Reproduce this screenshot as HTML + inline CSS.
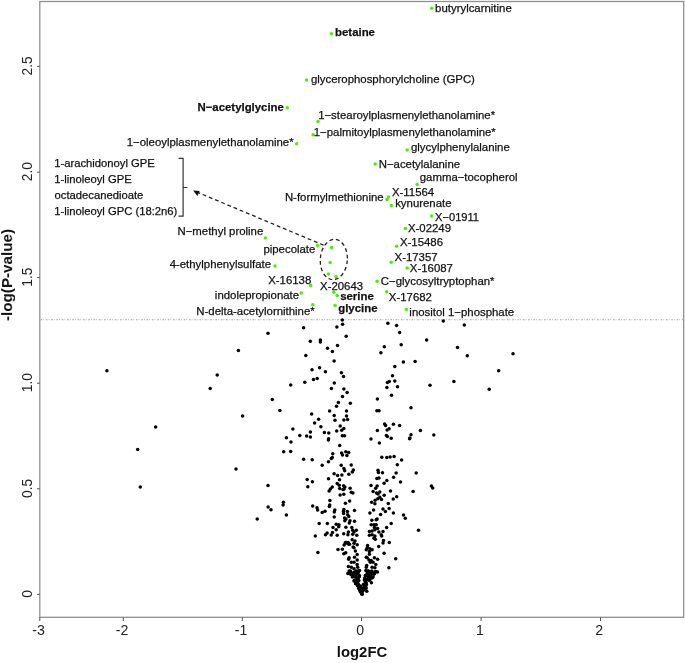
<!DOCTYPE html>
<html><head><meta charset="utf-8"><style>
html,body{margin:0;padding:0;background:#fff;width:685px;height:663px;overflow:hidden}
svg{display:block;font-family:"Liberation Sans",sans-serif}
</style></head><body>
<svg width="685" height="663" viewBox="0 0 685 663">
<rect width="685" height="663" fill="#fff"/>
<line x1="40.5" y1="319.8" x2="683" y2="319.8" stroke="#a2a2a2" stroke-width="1.1" stroke-dasharray="1.7 1.1 0.8 1.7"/>
<g fill="#000">
<circle cx="106.9" cy="370.7" r="1.75"/>
<circle cx="155.6" cy="426.9" r="1.75"/>
<circle cx="137.7" cy="449.5" r="1.75"/>
<circle cx="140.3" cy="486.9" r="1.75"/>
<circle cx="268.0" cy="333.3" r="1.75"/>
<circle cx="238.4" cy="350.5" r="1.75"/>
<circle cx="217.2" cy="375.1" r="1.75"/>
<circle cx="210.2" cy="388.4" r="1.75"/>
<circle cx="290.7" cy="384.9" r="1.75"/>
<circle cx="272.3" cy="399.5" r="1.75"/>
<circle cx="279.9" cy="410.6" r="1.75"/>
<circle cx="242.6" cy="415.9" r="1.75"/>
<circle cx="292.9" cy="429.0" r="1.75"/>
<circle cx="299.8" cy="435.5" r="1.75"/>
<circle cx="286.4" cy="437.8" r="1.75"/>
<circle cx="291.0" cy="441.9" r="1.75"/>
<circle cx="283.7" cy="451.7" r="1.75"/>
<circle cx="290.7" cy="451.5" r="1.75"/>
<circle cx="236.0" cy="469.1" r="1.75"/>
<circle cx="268.0" cy="485.4" r="1.75"/>
<circle cx="283.4" cy="502.3" r="1.75"/>
<circle cx="283.1" cy="505.0" r="1.75"/>
<circle cx="268.1" cy="507.0" r="1.75"/>
<circle cx="271.0" cy="509.8" r="1.75"/>
<circle cx="286.4" cy="514.9" r="1.75"/>
<circle cx="257.2" cy="518.9" r="1.75"/>
<circle cx="443.3" cy="321.0" r="1.75"/>
<circle cx="464.3" cy="325.1" r="1.75"/>
<circle cx="457.5" cy="347.5" r="1.75"/>
<circle cx="467.3" cy="355.7" r="1.75"/>
<circle cx="513.0" cy="353.8" r="1.75"/>
<circle cx="498.7" cy="370.8" r="1.75"/>
<circle cx="453.9" cy="381.4" r="1.75"/>
<circle cx="489.2" cy="389.3" r="1.75"/>
<circle cx="433.8" cy="435.0" r="1.75"/>
<circle cx="431.4" cy="486.0" r="1.75"/>
<circle cx="432.7" cy="487.9" r="1.75"/>
<circle cx="418.5" cy="530.2" r="1.75"/>
<circle cx="387.9" cy="323.3" r="1.75"/>
<circle cx="396.6" cy="325.6" r="1.75"/>
<circle cx="303.6" cy="327.7" r="1.75"/>
<circle cx="336.9" cy="326.9" r="1.75"/>
<circle cx="342.3" cy="320.1" r="1.75"/>
<circle cx="342.6" cy="324.3" r="1.75"/>
<circle cx="346.2" cy="336.2" r="1.75"/>
<circle cx="310.3" cy="341.2" r="1.75"/>
<circle cx="320.4" cy="339.9" r="1.75"/>
<circle cx="320.4" cy="342.1" r="1.75"/>
<circle cx="337.5" cy="345.5" r="1.75"/>
<circle cx="327.5" cy="348.3" r="1.75"/>
<circle cx="332.4" cy="351.5" r="1.75"/>
<circle cx="305.8" cy="355.6" r="1.75"/>
<circle cx="334.1" cy="361.1" r="1.75"/>
<circle cx="312.0" cy="369.7" r="1.75"/>
<circle cx="319.6" cy="367.7" r="1.75"/>
<circle cx="325.4" cy="371.8" r="1.75"/>
<circle cx="341.4" cy="372.7" r="1.75"/>
<circle cx="343.5" cy="376.4" r="1.75"/>
<circle cx="317.2" cy="378.5" r="1.75"/>
<circle cx="313.5" cy="379.5" r="1.75"/>
<circle cx="304.8" cy="382.2" r="1.75"/>
<circle cx="334.3" cy="382.9" r="1.75"/>
<circle cx="399.6" cy="332.5" r="1.75"/>
<circle cx="426.6" cy="340.1" r="1.75"/>
<circle cx="401.2" cy="344.7" r="1.75"/>
<circle cx="384.3" cy="346.8" r="1.75"/>
<circle cx="380.9" cy="352.8" r="1.75"/>
<circle cx="403.4" cy="362.1" r="1.75"/>
<circle cx="415.1" cy="361.4" r="1.75"/>
<circle cx="394.8" cy="366.4" r="1.75"/>
<circle cx="392.5" cy="375.8" r="1.75"/>
<circle cx="387.4" cy="382.6" r="1.75"/>
<circle cx="389.3" cy="381.6" r="1.75"/>
<circle cx="394.8" cy="381.1" r="1.75"/>
<circle cx="430.0" cy="385.2" r="1.75"/>
<circle cx="386.9" cy="387.5" r="1.75"/>
<circle cx="397.5" cy="386.7" r="1.75"/>
<circle cx="331.4" cy="388.5" r="1.75"/>
<circle cx="343.9" cy="389.0" r="1.75"/>
<circle cx="347.1" cy="392.6" r="1.75"/>
<circle cx="342.5" cy="396.5" r="1.75"/>
<circle cx="338.4" cy="402.5" r="1.75"/>
<circle cx="336.5" cy="406.2" r="1.75"/>
<circle cx="350.3" cy="403.3" r="1.75"/>
<circle cx="329.6" cy="410.9" r="1.75"/>
<circle cx="346.5" cy="410.9" r="1.75"/>
<circle cx="311.6" cy="414.0" r="1.75"/>
<circle cx="334.2" cy="415.4" r="1.75"/>
<circle cx="346.5" cy="416.1" r="1.75"/>
<circle cx="318.6" cy="419.2" r="1.75"/>
<circle cx="335.0" cy="420.3" r="1.75"/>
<circle cx="343.9" cy="419.9" r="1.75"/>
<circle cx="347.6" cy="419.5" r="1.75"/>
<circle cx="314.6" cy="423.1" r="1.75"/>
<circle cx="320.9" cy="426.8" r="1.75"/>
<circle cx="340.2" cy="426.0" r="1.75"/>
<circle cx="343.8" cy="428.4" r="1.75"/>
<circle cx="341.7" cy="430.3" r="1.75"/>
<circle cx="336.7" cy="431.0" r="1.75"/>
<circle cx="310.4" cy="431.9" r="1.75"/>
<circle cx="324.4" cy="432.5" r="1.75"/>
<circle cx="328.8" cy="433.1" r="1.75"/>
<circle cx="306.6" cy="436.1" r="1.75"/>
<circle cx="310.4" cy="437.0" r="1.75"/>
<circle cx="328.6" cy="438.8" r="1.75"/>
<circle cx="328.4" cy="439.9" r="1.75"/>
<circle cx="342.3" cy="435.8" r="1.75"/>
<circle cx="344.5" cy="435.8" r="1.75"/>
<circle cx="339.7" cy="445.4" r="1.75"/>
<circle cx="391.5" cy="395.3" r="1.75"/>
<circle cx="377.4" cy="399.0" r="1.75"/>
<circle cx="411.0" cy="407.8" r="1.75"/>
<circle cx="376.9" cy="410.8" r="1.75"/>
<circle cx="379.0" cy="410.8" r="1.75"/>
<circle cx="384.6" cy="423.9" r="1.75"/>
<circle cx="385.6" cy="425.4" r="1.75"/>
<circle cx="393.4" cy="424.2" r="1.75"/>
<circle cx="399.6" cy="425.6" r="1.75"/>
<circle cx="377.4" cy="430.6" r="1.75"/>
<circle cx="387.1" cy="430.0" r="1.75"/>
<circle cx="389.1" cy="428.8" r="1.75"/>
<circle cx="420.4" cy="430.6" r="1.75"/>
<circle cx="386.4" cy="435.6" r="1.75"/>
<circle cx="387.4" cy="436.4" r="1.75"/>
<circle cx="391.2" cy="438.2" r="1.75"/>
<circle cx="411.0" cy="434.7" r="1.75"/>
<circle cx="409.6" cy="438.8" r="1.75"/>
<circle cx="409.9" cy="437.9" r="1.75"/>
<circle cx="371.0" cy="439.1" r="1.75"/>
<circle cx="379.4" cy="442.9" r="1.75"/>
<circle cx="332.8" cy="453.7" r="1.75"/>
<circle cx="341.6" cy="452.9" r="1.75"/>
<circle cx="345.8" cy="451.8" r="1.75"/>
<circle cx="348.7" cy="452.4" r="1.75"/>
<circle cx="342.5" cy="455.1" r="1.75"/>
<circle cx="346.9" cy="455.4" r="1.75"/>
<circle cx="332.3" cy="457.6" r="1.75"/>
<circle cx="331.3" cy="458.6" r="1.75"/>
<circle cx="303.6" cy="459.3" r="1.75"/>
<circle cx="312.2" cy="459.8" r="1.75"/>
<circle cx="328.5" cy="461.7" r="1.75"/>
<circle cx="322.2" cy="465.3" r="1.75"/>
<circle cx="341.2" cy="465.3" r="1.75"/>
<circle cx="351.2" cy="465.0" r="1.75"/>
<circle cx="343.9" cy="468.6" r="1.75"/>
<circle cx="344.7" cy="470.7" r="1.75"/>
<circle cx="353.4" cy="469.9" r="1.75"/>
<circle cx="352.3" cy="472.1" r="1.75"/>
<circle cx="334.1" cy="473.7" r="1.75"/>
<circle cx="337.6" cy="475.4" r="1.75"/>
<circle cx="341.9" cy="475.0" r="1.75"/>
<circle cx="348.8" cy="474.3" r="1.75"/>
<circle cx="328.5" cy="478.7" r="1.75"/>
<circle cx="339.5" cy="479.8" r="1.75"/>
<circle cx="307.2" cy="479.4" r="1.75"/>
<circle cx="312.4" cy="481.7" r="1.75"/>
<circle cx="307.8" cy="486.7" r="1.75"/>
<circle cx="337.2" cy="483.6" r="1.75"/>
<circle cx="339.2" cy="485.2" r="1.75"/>
<circle cx="343.6" cy="485.8" r="1.75"/>
<circle cx="344.9" cy="487.1" r="1.75"/>
<circle cx="332.3" cy="486.9" r="1.75"/>
<circle cx="330.4" cy="489.1" r="1.75"/>
<circle cx="329.1" cy="491.0" r="1.75"/>
<circle cx="339.7" cy="488.5" r="1.75"/>
<circle cx="343.0" cy="489.6" r="1.75"/>
<circle cx="344.1" cy="489.1" r="1.75"/>
<circle cx="350.1" cy="488.3" r="1.75"/>
<circle cx="351.2" cy="492.3" r="1.75"/>
<circle cx="352.9" cy="492.9" r="1.75"/>
<circle cx="340.1" cy="495.1" r="1.75"/>
<circle cx="343.8" cy="494.2" r="1.75"/>
<circle cx="329.9" cy="500.6" r="1.75"/>
<circle cx="349.6" cy="501.1" r="1.75"/>
<circle cx="345.4" cy="503.3" r="1.75"/>
<circle cx="329.7" cy="504.9" r="1.75"/>
<circle cx="329.3" cy="506.6" r="1.75"/>
<circle cx="312.7" cy="506.0" r="1.75"/>
<circle cx="317.0" cy="507.7" r="1.75"/>
<circle cx="317.6" cy="509.9" r="1.75"/>
<circle cx="322.2" cy="512.4" r="1.75"/>
<circle cx="325.0" cy="511.2" r="1.75"/>
<circle cx="334.8" cy="509.9" r="1.75"/>
<circle cx="334.3" cy="512.1" r="1.75"/>
<circle cx="343.9" cy="509.6" r="1.75"/>
<circle cx="343.4" cy="511.5" r="1.75"/>
<circle cx="347.4" cy="511.5" r="1.75"/>
<circle cx="354.5" cy="510.4" r="1.75"/>
<circle cx="343.6" cy="513.5" r="1.75"/>
<circle cx="347.7" cy="514.8" r="1.75"/>
<circle cx="381.8" cy="457.3" r="1.75"/>
<circle cx="386.8" cy="457.6" r="1.75"/>
<circle cx="390.1" cy="457.1" r="1.75"/>
<circle cx="394.1" cy="456.5" r="1.75"/>
<circle cx="401.6" cy="459.9" r="1.75"/>
<circle cx="397.3" cy="464.7" r="1.75"/>
<circle cx="378.0" cy="470.2" r="1.75"/>
<circle cx="378.4" cy="472.5" r="1.75"/>
<circle cx="382.5" cy="472.8" r="1.75"/>
<circle cx="396.1" cy="472.9" r="1.75"/>
<circle cx="416.2" cy="473.1" r="1.75"/>
<circle cx="393.6" cy="477.2" r="1.75"/>
<circle cx="376.9" cy="478.6" r="1.75"/>
<circle cx="379.0" cy="478.1" r="1.75"/>
<circle cx="386.8" cy="480.5" r="1.75"/>
<circle cx="384.1" cy="483.3" r="1.75"/>
<circle cx="400.5" cy="481.9" r="1.75"/>
<circle cx="371.0" cy="485.4" r="1.75"/>
<circle cx="377.1" cy="486.0" r="1.75"/>
<circle cx="375.7" cy="488.3" r="1.75"/>
<circle cx="373.1" cy="491.4" r="1.75"/>
<circle cx="376.6" cy="493.0" r="1.75"/>
<circle cx="379.8" cy="492.1" r="1.75"/>
<circle cx="378.0" cy="494.1" r="1.75"/>
<circle cx="390.5" cy="491.0" r="1.75"/>
<circle cx="413.1" cy="491.4" r="1.75"/>
<circle cx="384.2" cy="495.3" r="1.75"/>
<circle cx="379.8" cy="497.3" r="1.75"/>
<circle cx="377.8" cy="498.8" r="1.75"/>
<circle cx="375.1" cy="500.3" r="1.75"/>
<circle cx="381.5" cy="499.4" r="1.75"/>
<circle cx="396.7" cy="496.8" r="1.75"/>
<circle cx="393.2" cy="499.0" r="1.75"/>
<circle cx="371.6" cy="502.3" r="1.75"/>
<circle cx="374.9" cy="503.8" r="1.75"/>
<circle cx="388.3" cy="503.5" r="1.75"/>
<circle cx="373.6" cy="510.1" r="1.75"/>
<circle cx="369.9" cy="513.1" r="1.75"/>
<circle cx="383.0" cy="509.1" r="1.75"/>
<circle cx="385.4" cy="511.4" r="1.75"/>
<circle cx="389.1" cy="508.4" r="1.75"/>
<circle cx="393.4" cy="513.1" r="1.75"/>
<circle cx="380.6" cy="514.6" r="1.75"/>
<circle cx="403.5" cy="514.9" r="1.75"/>
<circle cx="405.3" cy="518.2" r="1.75"/>
<circle cx="334.2" cy="517.1" r="1.75"/>
<circle cx="344.6" cy="518.0" r="1.75"/>
<circle cx="344.8" cy="520.7" r="1.75"/>
<circle cx="348.8" cy="516.6" r="1.75"/>
<circle cx="349.3" cy="523.0" r="1.75"/>
<circle cx="319.2" cy="523.4" r="1.75"/>
<circle cx="327.3" cy="523.4" r="1.75"/>
<circle cx="336.2" cy="524.3" r="1.75"/>
<circle cx="338.9" cy="524.8" r="1.75"/>
<circle cx="338.7" cy="526.8" r="1.75"/>
<circle cx="333.0" cy="527.5" r="1.75"/>
<circle cx="336.2" cy="529.7" r="1.75"/>
<circle cx="345.9" cy="527.3" r="1.75"/>
<circle cx="332.5" cy="532.5" r="1.75"/>
<circle cx="331.2" cy="534.9" r="1.75"/>
<circle cx="327.1" cy="532.9" r="1.75"/>
<circle cx="325.5" cy="534.7" r="1.75"/>
<circle cx="337.2" cy="535.2" r="1.75"/>
<circle cx="343.7" cy="533.8" r="1.75"/>
<circle cx="348.4" cy="532.0" r="1.75"/>
<circle cx="347.9" cy="534.7" r="1.75"/>
<circle cx="315.3" cy="536.1" r="1.75"/>
<circle cx="345.2" cy="542.9" r="1.75"/>
<circle cx="347.0" cy="542.9" r="1.75"/>
<circle cx="344.1" cy="545.1" r="1.75"/>
<circle cx="348.8" cy="544.2" r="1.75"/>
<circle cx="338.0" cy="549.5" r="1.75"/>
<circle cx="342.3" cy="549.2" r="1.75"/>
<circle cx="343.8" cy="553.7" r="1.75"/>
<circle cx="345.7" cy="552.8" r="1.75"/>
<circle cx="317.9" cy="552.5" r="1.75"/>
<circle cx="348.6" cy="559.2" r="1.75"/>
<circle cx="348.4" cy="566.4" r="1.75"/>
<circle cx="345.7" cy="542.4" r="1.75"/>
<circle cx="348.1" cy="542.4" r="1.75"/>
<circle cx="347.8" cy="573.4" r="1.75"/>
<circle cx="345.9" cy="518.9" r="1.75"/>
<circle cx="350.0" cy="520.7" r="1.75"/>
<circle cx="354.5" cy="521.3" r="1.75"/>
<circle cx="351.8" cy="527.5" r="1.75"/>
<circle cx="352.7" cy="530.2" r="1.75"/>
<circle cx="356.3" cy="530.2" r="1.75"/>
<circle cx="354.0" cy="532.0" r="1.75"/>
<circle cx="352.7" cy="534.3" r="1.75"/>
<circle cx="356.8" cy="535.2" r="1.75"/>
<circle cx="352.2" cy="539.7" r="1.75"/>
<circle cx="355.0" cy="541.1" r="1.75"/>
<circle cx="346.4" cy="542.4" r="1.75"/>
<circle cx="349.5" cy="544.2" r="1.75"/>
<circle cx="354.0" cy="543.3" r="1.75"/>
<circle cx="357.2" cy="544.7" r="1.75"/>
<circle cx="353.1" cy="546.9" r="1.75"/>
<circle cx="354.0" cy="547.8" r="1.75"/>
<circle cx="355.4" cy="551.0" r="1.75"/>
<circle cx="357.2" cy="554.6" r="1.75"/>
<circle cx="354.5" cy="557.3" r="1.75"/>
<circle cx="349.1" cy="557.8" r="1.75"/>
<circle cx="357.2" cy="560.1" r="1.75"/>
<circle cx="351.3" cy="562.3" r="1.75"/>
<circle cx="354.0" cy="562.3" r="1.75"/>
<circle cx="357.2" cy="564.6" r="1.75"/>
<circle cx="351.3" cy="567.3" r="1.75"/>
<circle cx="354.0" cy="568.7" r="1.75"/>
<circle cx="357.7" cy="567.3" r="1.75"/>
<circle cx="350.4" cy="570.9" r="1.75"/>
<circle cx="355.9" cy="570.9" r="1.75"/>
<circle cx="359.5" cy="570.5" r="1.75"/>
<circle cx="371.9" cy="520.2" r="1.75"/>
<circle cx="376.2" cy="519.8" r="1.75"/>
<circle cx="377.1" cy="518.9" r="1.75"/>
<circle cx="391.2" cy="523.4" r="1.75"/>
<circle cx="371.2" cy="524.8" r="1.75"/>
<circle cx="374.0" cy="524.8" r="1.75"/>
<circle cx="376.2" cy="524.8" r="1.75"/>
<circle cx="374.4" cy="527.5" r="1.75"/>
<circle cx="377.6" cy="528.4" r="1.75"/>
<circle cx="386.6" cy="527.5" r="1.75"/>
<circle cx="369.4" cy="531.6" r="1.75"/>
<circle cx="372.1" cy="531.1" r="1.75"/>
<circle cx="374.9" cy="529.7" r="1.75"/>
<circle cx="378.9" cy="532.0" r="1.75"/>
<circle cx="383.0" cy="531.6" r="1.75"/>
<circle cx="369.4" cy="535.2" r="1.75"/>
<circle cx="372.1" cy="534.7" r="1.75"/>
<circle cx="374.9" cy="536.1" r="1.75"/>
<circle cx="381.2" cy="534.7" r="1.75"/>
<circle cx="381.7" cy="536.1" r="1.75"/>
<circle cx="374.0" cy="538.3" r="1.75"/>
<circle cx="375.3" cy="539.2" r="1.75"/>
<circle cx="383.5" cy="540.6" r="1.75"/>
<circle cx="383.0" cy="542.9" r="1.75"/>
<circle cx="389.3" cy="542.4" r="1.75"/>
<circle cx="378.7" cy="546.5" r="1.75"/>
<circle cx="367.6" cy="545.6" r="1.75"/>
<circle cx="367.2" cy="547.8" r="1.75"/>
<circle cx="369.9" cy="548.7" r="1.75"/>
<circle cx="372.1" cy="549.7" r="1.75"/>
<circle cx="366.3" cy="549.7" r="1.75"/>
<circle cx="369.4" cy="551.5" r="1.75"/>
<circle cx="369.4" cy="554.2" r="1.75"/>
<circle cx="384.1" cy="553.3" r="1.75"/>
<circle cx="366.3" cy="557.3" r="1.75"/>
<circle cx="367.2" cy="557.8" r="1.75"/>
<circle cx="374.4" cy="557.8" r="1.75"/>
<circle cx="377.6" cy="559.2" r="1.75"/>
<circle cx="395.7" cy="558.7" r="1.75"/>
<circle cx="369.0" cy="560.1" r="1.75"/>
<circle cx="371.2" cy="560.5" r="1.75"/>
<circle cx="370.3" cy="562.3" r="1.75"/>
<circle cx="373.1" cy="562.3" r="1.75"/>
<circle cx="375.8" cy="564.6" r="1.75"/>
<circle cx="366.7" cy="565.5" r="1.75"/>
<circle cx="366.3" cy="567.3" r="1.75"/>
<circle cx="372.1" cy="567.3" r="1.75"/>
<circle cx="374.9" cy="567.8" r="1.75"/>
<circle cx="388.9" cy="567.8" r="1.75"/>
<circle cx="365.9" cy="570.5" r="1.75"/>
<circle cx="368.5" cy="570.9" r="1.75"/>
<circle cx="371.7" cy="570.9" r="1.75"/>
<circle cx="375.8" cy="571.4" r="1.75"/>
<circle cx="366.8" cy="591.3" r="1.75"/>
<circle cx="371.4" cy="582.8" r="1.75"/>
<circle cx="377.5" cy="571.9" r="1.75"/>
<circle cx="354.0" cy="581.1" r="1.75"/>
<circle cx="358.0" cy="571.1" r="1.75"/>
<circle cx="349.1" cy="571.0" r="1.75"/>
<circle cx="367.6" cy="571.2" r="1.75"/>
<circle cx="349.8" cy="571.8" r="1.75"/>
<circle cx="350.7" cy="572.0" r="1.75"/>
<circle cx="357.5" cy="572.0" r="1.75"/>
<circle cx="354.0" cy="572.3" r="1.75"/>
<circle cx="358.2" cy="572.3" r="1.75"/>
<circle cx="374.8" cy="572.0" r="1.75"/>
<circle cx="367.3" cy="571.9" r="1.75"/>
<circle cx="371.8" cy="571.8" r="1.75"/>
<circle cx="369.1" cy="572.0" r="1.75"/>
<circle cx="353.9" cy="573.2" r="1.75"/>
<circle cx="356.1" cy="573.0" r="1.75"/>
<circle cx="349.4" cy="573.5" r="1.75"/>
<circle cx="371.1" cy="573.0" r="1.75"/>
<circle cx="374.8" cy="573.1" r="1.75"/>
<circle cx="374.5" cy="573.6" r="1.75"/>
<circle cx="353.1" cy="574.5" r="1.75"/>
<circle cx="350.8" cy="574.6" r="1.75"/>
<circle cx="357.8" cy="574.1" r="1.75"/>
<circle cx="373.8" cy="574.3" r="1.75"/>
<circle cx="370.3" cy="574.3" r="1.75"/>
<circle cx="366.9" cy="574.2" r="1.75"/>
<circle cx="359.3" cy="575.4" r="1.75"/>
<circle cx="355.2" cy="575.5" r="1.75"/>
<circle cx="355.7" cy="575.8" r="1.75"/>
<circle cx="368.7" cy="575.3" r="1.75"/>
<circle cx="365.3" cy="575.6" r="1.75"/>
<circle cx="366.2" cy="575.8" r="1.75"/>
<circle cx="370.6" cy="575.8" r="1.75"/>
<circle cx="352.4" cy="577.0" r="1.75"/>
<circle cx="354.9" cy="577.1" r="1.75"/>
<circle cx="359.3" cy="576.7" r="1.75"/>
<circle cx="370.9" cy="576.7" r="1.75"/>
<circle cx="368.2" cy="576.5" r="1.75"/>
<circle cx="373.1" cy="577.1" r="1.75"/>
<circle cx="369.0" cy="576.6" r="1.75"/>
<circle cx="357.9" cy="578.2" r="1.75"/>
<circle cx="357.0" cy="578.1" r="1.75"/>
<circle cx="370.1" cy="577.7" r="1.75"/>
<circle cx="370.7" cy="578.0" r="1.75"/>
<circle cx="372.0" cy="578.0" r="1.75"/>
<circle cx="364.7" cy="577.9" r="1.75"/>
<circle cx="357.4" cy="579.0" r="1.75"/>
<circle cx="367.0" cy="579.3" r="1.75"/>
<circle cx="369.5" cy="579.4" r="1.75"/>
<circle cx="368.2" cy="579.1" r="1.75"/>
<circle cx="358.8" cy="580.5" r="1.75"/>
<circle cx="357.9" cy="580.4" r="1.75"/>
<circle cx="354.3" cy="580.4" r="1.75"/>
<circle cx="368.8" cy="580.1" r="1.75"/>
<circle cx="369.5" cy="580.3" r="1.75"/>
<circle cx="364.4" cy="580.0" r="1.75"/>
<circle cx="357.9" cy="581.2" r="1.75"/>
<circle cx="355.2" cy="581.0" r="1.75"/>
<circle cx="365.2" cy="581.1" r="1.75"/>
<circle cx="356.7" cy="582.6" r="1.75"/>
<circle cx="355.8" cy="582.8" r="1.75"/>
<circle cx="365.5" cy="582.4" r="1.75"/>
<circle cx="366.0" cy="582.2" r="1.75"/>
<circle cx="355.6" cy="583.7" r="1.75"/>
<circle cx="358.2" cy="584.0" r="1.75"/>
<circle cx="365.9" cy="583.9" r="1.75"/>
<circle cx="358.5" cy="585.1" r="1.75"/>
<circle cx="363.4" cy="584.5" r="1.75"/>
<circle cx="366.4" cy="584.5" r="1.75"/>
<circle cx="360.3" cy="585.9" r="1.75"/>
<circle cx="357.4" cy="585.8" r="1.75"/>
<circle cx="364.9" cy="586.3" r="1.75"/>
<circle cx="365.8" cy="585.8" r="1.75"/>
<circle cx="359.0" cy="587.0" r="1.75"/>
<circle cx="360.9" cy="587.1" r="1.75"/>
<circle cx="364.9" cy="586.8" r="1.75"/>
<circle cx="360.6" cy="587.9" r="1.75"/>
<circle cx="358.7" cy="588.6" r="1.75"/>
<circle cx="363.6" cy="588.1" r="1.75"/>
<circle cx="366.2" cy="588.1" r="1.75"/>
<circle cx="359.8" cy="589.5" r="1.75"/>
<circle cx="364.8" cy="589.1" r="1.75"/>
<circle cx="359.8" cy="590.6" r="1.75"/>
<circle cx="363.1" cy="590.6" r="1.75"/>
<circle cx="360.4" cy="591.9" r="1.75"/>
<circle cx="362.3" cy="591.5" r="1.75"/>
<circle cx="361.7" cy="593.1" r="1.75"/>
<circle cx="361.6" cy="594.1" r="1.75"/>
<circle cx="362.3" cy="594.3" r="1.75"/>
</g>
<g fill="#4cf000">
<circle cx="431.7" cy="8.3" r="1.75"/>
<circle cx="331.4" cy="33.7" r="1.75"/>
<circle cx="306.6" cy="80.0" r="1.75"/>
<circle cx="287.3" cy="107.7" r="1.75"/>
<circle cx="318.0" cy="121.5" r="1.75"/>
<circle cx="313.1" cy="134.8" r="1.75"/>
<circle cx="296.6" cy="143.7" r="1.75"/>
<circle cx="407.1" cy="150.1" r="1.75"/>
<circle cx="375.2" cy="164.1" r="1.75"/>
<circle cx="417.1" cy="184.4" r="1.75"/>
<circle cx="387.0" cy="199.5" r="1.75"/>
<circle cx="388.5" cy="197.0" r="1.75"/>
<circle cx="391.4" cy="205.5" r="1.75"/>
<circle cx="431.6" cy="216.0" r="1.75"/>
<circle cx="405.3" cy="228.4" r="1.75"/>
<circle cx="396.6" cy="246.2" r="1.75"/>
<circle cx="391.2" cy="262.2" r="1.75"/>
<circle cx="407.2" cy="268.1" r="1.75"/>
<circle cx="377.1" cy="281.3" r="1.75"/>
<circle cx="386.7" cy="291.7" r="1.75"/>
<circle cx="406.3" cy="309.5" r="1.75"/>
<circle cx="265.3" cy="238.0" r="1.75"/>
<circle cx="317.6" cy="245.4" r="1.75"/>
<circle cx="275.0" cy="266.1" r="1.75"/>
<circle cx="310.7" cy="285.4" r="1.75"/>
<circle cx="301.3" cy="292.9" r="1.75"/>
<circle cx="312.8" cy="304.7" r="1.75"/>
<circle cx="331.6" cy="247.4" r="1.75"/>
<circle cx="330.1" cy="262.6" r="1.75"/>
<circle cx="328.4" cy="273.9" r="1.75"/>
<circle cx="336.0" cy="276.6" r="1.75"/>
<circle cx="333.9" cy="292.2" r="1.75"/>
<circle cx="337.2" cy="295.5" r="1.75"/>
<circle cx="335.1" cy="305.6" r="1.75"/>
</g>
<defs><filter id="gs" x="0" y="0" width="685" height="663" filterUnits="userSpaceOnUse"><feColorMatrix type="saturate" values="0"/></filter></defs><g filter="url(#gs)">
<rect x="39.8" y="1.5" width="643.9" height="615.8" fill="none" stroke="#909090" stroke-width="1.3"/>
<line x1="37" y1="594.4" x2="39.8" y2="594.4" stroke="#555" stroke-width="1"/>
<text transform="translate(31.7 593.9) rotate(-90)" text-anchor="middle" font-size="13.8" fill="#222">0</text>
<line x1="37" y1="488.8" x2="39.8" y2="488.8" stroke="#555" stroke-width="1"/>
<text transform="translate(31.7 488.3) rotate(-90)" text-anchor="middle" font-size="13.8" fill="#222">0.5</text>
<line x1="37" y1="383.2" x2="39.8" y2="383.2" stroke="#555" stroke-width="1"/>
<text transform="translate(31.7 382.7) rotate(-90)" text-anchor="middle" font-size="13.8" fill="#222">1.0</text>
<line x1="37" y1="277.6" x2="39.8" y2="277.6" stroke="#555" stroke-width="1"/>
<text transform="translate(31.7 277.1) rotate(-90)" text-anchor="middle" font-size="13.8" fill="#222">1.5</text>
<line x1="37" y1="172.2" x2="39.8" y2="172.2" stroke="#555" stroke-width="1"/>
<text transform="translate(31.7 171.7) rotate(-90)" text-anchor="middle" font-size="13.8" fill="#222">2.0</text>
<line x1="37" y1="66.4" x2="39.8" y2="66.4" stroke="#555" stroke-width="1"/>
<text transform="translate(31.7 65.9) rotate(-90)" text-anchor="middle" font-size="13.8" fill="#222">2.5</text>
<line x1="39.8" y1="617.3" x2="39.8" y2="621" stroke="#555" stroke-width="1"/>
<text x="38.5" y="634.8" text-anchor="middle" font-size="14.1" fill="#222">-3</text>
<line x1="123.3" y1="617.3" x2="123.3" y2="621" stroke="#555" stroke-width="1"/>
<text x="122.0" y="634.8" text-anchor="middle" font-size="14.1" fill="#222">-2</text>
<line x1="242.3" y1="617.3" x2="242.3" y2="621" stroke="#555" stroke-width="1"/>
<text x="241.0" y="634.8" text-anchor="middle" font-size="14.1" fill="#222">-1</text>
<line x1="361.5" y1="617.3" x2="361.5" y2="621" stroke="#555" stroke-width="1"/>
<text x="360.2" y="634.8" text-anchor="middle" font-size="14.1" fill="#222">0</text>
<line x1="481.1" y1="617.3" x2="481.1" y2="621" stroke="#555" stroke-width="1"/>
<text x="479.8" y="634.8" text-anchor="middle" font-size="14.1" fill="#222">1</text>
<line x1="600.5" y1="617.3" x2="600.5" y2="621" stroke="#555" stroke-width="1"/>
<text x="599.2" y="634.8" text-anchor="middle" font-size="14.1" fill="#222">2</text>
<text x="362.0" y="656.5" text-anchor="middle" font-size="14.9" font-weight="bold" fill="#111">log2FC</text>
<text transform="translate(12.1 275) rotate(-90)" text-anchor="middle" font-size="15.2" font-weight="bold" fill="#111">-log(P-value)</text>
<text x="435.12" y="12.0" font-size="11.4" fill="#111" stroke="#111" stroke-width="0.25">butyrylcarnitine</text>
<text x="335.06" y="36.3" font-size="11.4" font-weight="bold" fill="#111" stroke="#111" stroke-width="0.25">betaine</text>
<text x="310.94" y="82.8" font-size="11.4" fill="#111" stroke="#111" stroke-width="0.25">glycerophosphorylcholine (GPC)</text>
<text x="318.14" y="118.6" font-size="11.4" fill="#111" stroke="#111" stroke-width="0.25">1−stearoylplasmenylethanolamine*</text>
<text x="313.75" y="135.7" font-size="11.4" fill="#111" stroke="#111" stroke-width="0.25">1−palmitoylplasmenylethanolamine*</text>
<text x="410.94" y="151.4" font-size="11.4" fill="#111" stroke="#111" stroke-width="0.25">glycylphenylalanine</text>
<text x="378.69" y="167.7" font-size="11.4" fill="#111" stroke="#111" stroke-width="0.25">N−acetylalanine</text>
<text x="419.74" y="180.5" font-size="11.4" fill="#111" stroke="#111" stroke-width="0.25">gamma−tocopherol</text>
<text x="391.97" y="195.5" font-size="11.4" fill="#111" stroke="#111" stroke-width="0.25">X-11564</text>
<text x="395.16" y="207.4" font-size="11.4" fill="#111" stroke="#111" stroke-width="0.25">kynurenate</text>
<text x="435.08" y="220.6" font-size="11.1" fill="#111" stroke="#111" stroke-width="0.25">X−01911</text>
<text x="407.97" y="232.4" font-size="11.4" fill="#111" stroke="#111" stroke-width="0.25">X-02249</text>
<text x="399.97" y="245.6" font-size="11.4" fill="#111" stroke="#111" stroke-width="0.25">X-15486</text>
<text x="394.57" y="260.8" font-size="11.4" fill="#111" stroke="#111" stroke-width="0.25">X-17357</text>
<text x="409.87" y="272.3" font-size="11.4" fill="#111" stroke="#111" stroke-width="0.25">X-16087</text>
<text x="380.83" y="284.7" font-size="11.4" fill="#111" stroke="#111" stroke-width="0.25">C−glycosyltryptophan*</text>
<text x="388.87" y="300.5" font-size="11.4" fill="#111" stroke="#111" stroke-width="0.25">X-17682</text>
<text x="409.36" y="315.6" font-size="11.4" fill="#111" stroke="#111" stroke-width="0.25">inositol 1−phosphate</text>
<text x="320.07" y="289.5" font-size="11.4" fill="#111" stroke="#111" stroke-width="0.25">X-20643</text>
<text x="340.20" y="299.6" font-size="11.4" font-weight="bold" fill="#111" stroke="#111" stroke-width="0.25">serine</text>
<text x="338.24" y="312.3" font-size="11.4" font-weight="bold" fill="#111" stroke="#111" stroke-width="0.25">glycine</text>
<text x="197.46" y="110.5" font-size="11.4" font-weight="bold" fill="#111" stroke="#111" stroke-width="0.25">N−acetylglycine</text>
<text x="126.74" y="146.4" font-size="11.4" fill="#111" stroke="#111" stroke-width="0.25">1−oleoylplasmenylethanolamine*</text>
<text x="284.89" y="200.8" font-size="11.4" fill="#111" stroke="#111" stroke-width="0.25">N-formylmethionine</text>
<text x="177.49" y="235.4" font-size="11.4" fill="#111" stroke="#111" stroke-width="0.25">N−methyl proline</text>
<text x="263.42" y="252.7" font-size="11.4" fill="#111" stroke="#111" stroke-width="0.25">pipecolate</text>
<text x="169.67" y="267.6" font-size="11.4" fill="#111" stroke="#111" stroke-width="0.25">4-ethylphenylsulfate</text>
<text x="268.17" y="284.1" font-size="11.4" fill="#111" stroke="#111" stroke-width="0.25">X-16138</text>
<text x="214.86" y="298.6" font-size="11.4" fill="#111" stroke="#111" stroke-width="0.25">indolepropionate</text>
<text x="196.29" y="314.7" font-size="11.4" fill="#111" stroke="#111" stroke-width="0.25">N-delta-acetylornithine*</text>
<text x="54.16" y="167.0" font-size="11.25" fill="#111" stroke="#111" stroke-width="0.25">1-arachidonoyl GPE</text>
<text x="54.16" y="182.9" font-size="11.25" fill="#111" stroke="#111" stroke-width="0.25">1-linoleoyl GPE</text>
<text x="54.55" y="199.0" font-size="11.25" fill="#111" stroke="#111" stroke-width="0.25">octadecanedioate</text>
<text x="54.16" y="214.6" font-size="11.25" fill="#111" stroke="#111" stroke-width="0.25">1-linoleoyl GPC (18:2n6)</text>
<path d="M178.5 158.3 H183.1 V216.2 H178.5 M183.1 187.5 H187.5" fill="none" stroke="#333" stroke-width="1.2"/>
<line x1="323.6" y1="245.2" x2="197.5" y2="192.3" stroke="#222" stroke-width="1.3" stroke-dasharray="3.8 2.9"/>
<path d="M193.2 190.5 L199.6 190.9 L197.4 196.0 Z" fill="#111"/>
<ellipse cx="333.8" cy="259.5" rx="13.5" ry="20.2" transform="rotate(4 333.8 259.5)" fill="none" stroke="#222" stroke-width="1.3" stroke-dasharray="3.8 2.9"/>
</g></svg>
</body></html>
